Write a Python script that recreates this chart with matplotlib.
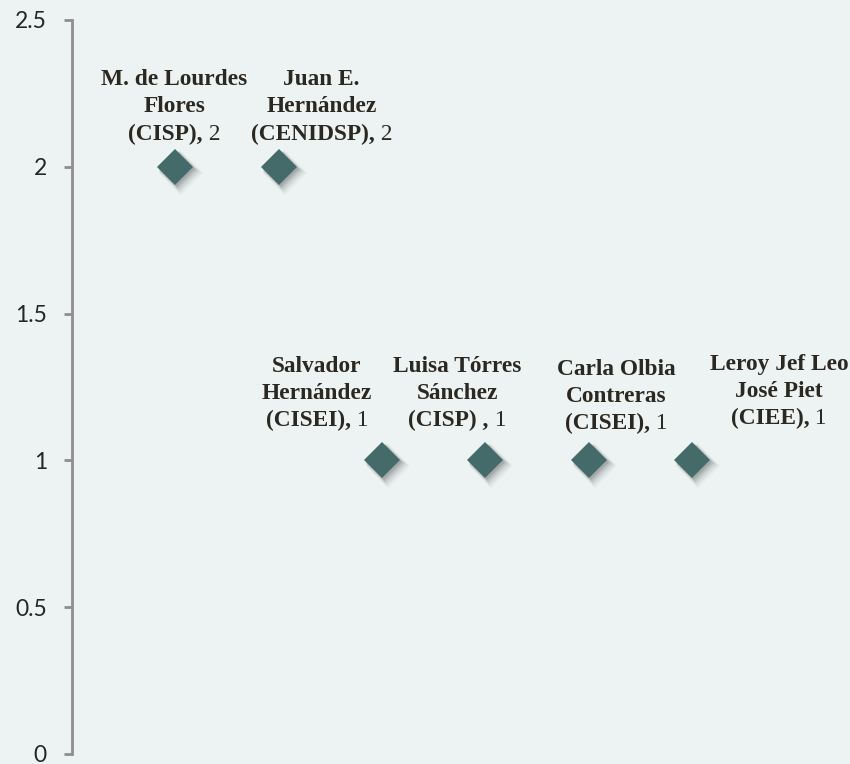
import matplotlib
matplotlib.use("Agg")
import matplotlib.pyplot as plt
import matplotlib.transforms as mtransforms
from matplotlib.offsetbox import TextArea, VPacker, HPacker, AnnotationBbox

# ---- data ----
name_lines = [
    ["M. de Lourdes", "Flores"],
    ["Juan E.", "Hernández"],
    ["Salvador", "Hernández"],
    ["Luisa Tórres", "Sánchez"],
    ["Carla Olbia", "Contreras"],
    ["Leroy Jef Leo", "José Piet"],
]
centers = ["(CISP),", "(CENIDSP),", "(CISEI),", "(CISP) ,", "(CISEI),", "(CIEE),"]
x_pos = [1, 2, 3, 4, 5, 6]
values = [2, 2, 1, 1, 1, 1]
yticks = [0, 0.5, 1, 1.5, 2, 2.5]
ytick_labels = ["0", "0.5", "1", "1.5", "2", "2.5"]

# ---- layout / style ----
label_offsets_px = [(-1, 60), (43, 60), (-65, 67), (-28, 67), (28, 64), (87, 69)]
BG = "#EDF2F2"
MARKER = "#456A6A"
TXT = "#2B2822"
TICKTXT = "#262626"
SPINE = "#8E8E8E"
SERIF = "Liberation Serif"
LFS = 16.8
MS = 18

fig = plt.figure(figsize=(8.5, 7.64), dpi=100, facecolor=BG)
ax = fig.add_axes([72 / 850, 10 / 764, 1 - 72 / 850, 734 / 764])
ax.set_facecolor(BG)
ax.set_xlim(0, 7.53)
ax.set_ylim(0, 2.5)

# soft shadows
for (sx, sy, a, grow) in [(6, -6, 0.04, 8), (5, -5, 0.06, 6), (4, -4, 0.08, 4),
                          (3, -3, 0.11, 2), (2, -2, 0.15, 0)]:
    tr = mtransforms.offset_copy(ax.transData, fig=fig, x=sx, y=sy, units="dots")
    ax.plot(x_pos, values, linestyle="none", marker="D", markersize=MS + grow * 0.5,
            markerfacecolor="#303030", markeredgewidth=0, alpha=a, transform=tr,
            clip_on=False, zorder=2)
ax.plot(x_pos, values, linestyle="none", marker="D", markersize=MS,
        markerfacecolor=MARKER, markeredgewidth=0, clip_on=False, zorder=3)

# labels
bold = dict(fontfamily=SERIF, fontweight="bold", fontsize=LFS, color=TXT)
reg = dict(fontfamily=SERIF, fontweight="normal", fontsize=LFS, color=TXT)
for xi, yi, lines, cen, v, off in zip(x_pos, values, name_lines, centers, values, label_offsets_px):
    children = [TextArea(t, textprops=bold) for t in lines]
    last = HPacker(children=[TextArea(cen, textprops=bold), TextArea(" %g" % v, textprops=reg)],
                   align="baseline", pad=0, sep=0)
    children.append(last)
    box = VPacker(children=children, align="center", pad=0, sep=4.5)
    ab = AnnotationBbox(box, (xi, yi), xybox=off, xycoords="data", boxcoords="offset pixels",
                        box_alignment=(0.5, 0.5), frameon=False, pad=0, annotation_clip=False,
                        zorder=4)
    ax.add_artist(ab)

# axes styling
for s in ["top", "right", "bottom"]:
    ax.spines[s].set_visible(False)
ax.spines["left"].set_color(SPINE)
ax.spines["left"].set_linewidth(2)
ax.set_xticks([])
ax.set_yticks(yticks, ytick_labels)
ax.tick_params(axis="y", length=6, width=2, color=SPINE, pad=12, labelsize=16.5, labelcolor=TICKTXT)
for lab in ax.get_yticklabels():
    lab.set_fontfamily("Lato")

fig.savefig("out.png", dpi=100, facecolor=BG)
